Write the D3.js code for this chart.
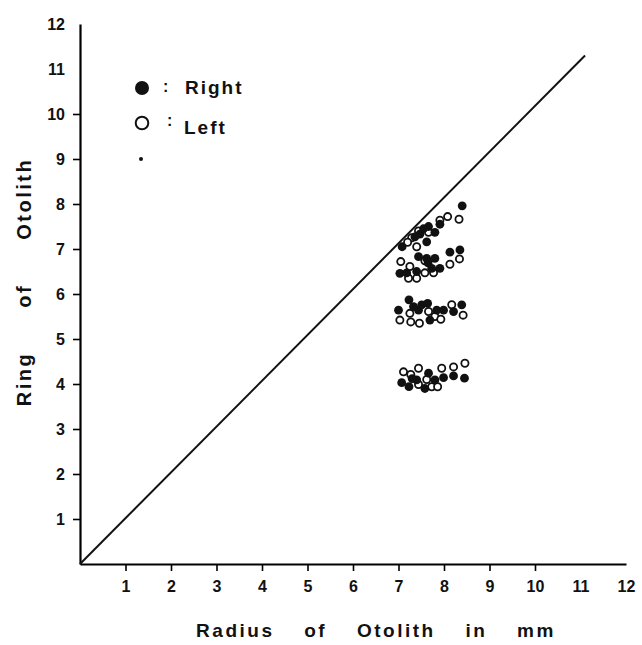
<!DOCTYPE html>
<html>
<head>
  <style>
    body { margin: 0; background: #fff; }
    text { font-family: "Liberation Sans", Arial, sans-serif; font-weight: bold; fill: #111; }
  </style>
  <title>Ring of Otolith vs Radius of Otolith</title>
  <script src="https://cdn.jsdelivr.net/npm/d3@7/dist/d3.min.js"></script>
</head>
<body>
<script>
  // Tick labels
  const xTicks = [1, 2, 3, 4, 5, 6, 7, 8, 9, 10, 11, 12];
  const yTicks = [1, 2, 3, 4, 5, 6, 7, 8, 9, 10, 11, 12];

  // Reference line (ring = radius)
  const diagonal = [[0, 0], [11.1, 11.3]];

  // Right otoliths (filled) : [radius mm, ring]
  const rightPts = [
    [8.40, 7.96], [7.91, 7.55], [7.80, 7.37], [7.66, 7.50], [7.47, 7.33], [7.36, 7.27],
    [7.62, 7.16], [7.08, 7.05], [7.55, 7.45],
    [8.13, 6.93], [8.35, 6.98], [7.44, 6.83], [7.62, 6.79], [7.80, 6.79], [7.03, 6.46],
    [7.18, 6.47], [7.40, 6.50], [7.65, 6.69], [7.73, 6.57], [7.91, 6.57],
    [7.23, 5.87], [7.00, 5.64], [7.33, 5.72], [7.44, 5.64], [7.51, 5.76], [7.64, 5.79],
    [7.69, 5.42], [7.84, 5.64], [7.99, 5.64], [8.21, 5.61], [8.39, 5.76],
    [7.07, 4.03], [7.23, 3.94], [7.40, 4.09], [7.30, 4.12], [7.66, 4.24], [7.58, 3.90],
    [7.80, 4.09], [7.99, 4.14], [8.21, 4.18], [8.45, 4.13]
  ];

  // Left otoliths (open)
  const leftPts = [
    [8.33, 7.66], [8.08, 7.72], [7.91, 7.64], [7.66, 7.37], [7.44, 7.40], [7.29, 7.25],
    [7.40, 7.05], [7.20, 7.15],
    [8.34, 6.78], [8.13, 6.66], [7.58, 6.74], [7.05, 6.72], [7.25, 6.61], [7.22, 6.35],
    [7.40, 6.35], [7.58, 6.47], [7.77, 6.47],
    [7.03, 5.42], [7.25, 5.57], [7.27, 5.38], [7.46, 5.35], [7.66, 5.61], [7.80, 5.50],
    [8.17, 5.76], [8.42, 5.53], [7.93, 5.44],
    [7.11, 4.27], [7.27, 4.21], [7.44, 4.35], [7.44, 3.99], [7.62, 4.10], [7.73, 3.94],
    [7.86, 3.94], [7.95, 4.35], [8.21, 4.38], [8.46, 4.46]
  ];

  const width = 642, height = 645;

  const svg = d3.select("body").append("svg")
      .attr("width", width)
      .attr("height", height);

  // Scales
  const x = d3.scaleLinear().domain([0, 12]).range([80, 626]);
  const y = d3.scaleLinear().domain([0, 12]).range([564, 24]);

  // X axis
  const xAxis = svg.append("g")
      .attr("transform", "translate(0," + y(0) + ")")
      .call(d3.axisBottom(x).tickValues(xTicks).tickSize(7).tickSizeOuter(0).tickPadding(10));
  xAxis.select(".domain").attr("stroke-width", 2.2);
  xAxis.selectAll(".tick line").attr("stroke-width", 1.6);
  xAxis.selectAll(".tick").filter(d => d > 10).select("line").remove();
  xAxis.selectAll(".tick text").style("font-size", "16px").style("font-family", "'Liberation Sans', Arial, sans-serif").style("font-weight", "bold");

  // Y axis
  const yAxis = svg.append("g")
      .attr("transform", "translate(" + x(0) + ",0)")
      .call(d3.axisLeft(y).tickValues(yTicks).tickSize(7).tickSizeOuter(0).tickPadding(8));
  yAxis.select(".domain").attr("stroke-width", 2.2);
  yAxis.selectAll(".tick line").attr("stroke-width", 1.6);
  yAxis.selectAll(".tick").filter(d => d > 10).select("line").remove();
  yAxis.selectAll(".tick text").style("font-size", "16px").style("font-family", "'Liberation Sans', Arial, sans-serif").style("font-weight", "bold");

  // Diagonal line
  svg.append("path")
      .datum(diagonal)
      .attr("fill", "none")
      .attr("stroke", "#111")
      .attr("stroke-width", 2)
      .attr("d", d3.line().x(d => x(d[0])).y(d => y(d[1])));

  // Points
  svg.append("g").selectAll("circle.left")
      .data(leftPts)
      .enter().append("circle")
        .attr("class", "left")
        .attr("cx", d => x(d[0]))
        .attr("cy", d => y(d[1]))
        .attr("r", 3.6)
        .attr("fill", "#fff")
        .attr("stroke", "#111")
        .attr("stroke-width", 1.8);

  svg.append("g").selectAll("circle.right")
      .data(rightPts)
      .enter().append("circle")
        .attr("class", "right")
        .attr("cx", d => x(d[0]))
        .attr("cy", d => y(d[1]))
        .attr("r", 4.4)
        .attr("fill", "#111");

  // Legend
  const legend = svg.append("g");
  legend.append("circle").attr("cx", 142).attr("cy", 88).attr("r", 7).attr("fill", "#111");
  legend.append("circle").attr("cx", 142).attr("cy", 123).attr("r", 6.3)
      .attr("fill", "none").attr("stroke", "#111").attr("stroke-width", 2);
  legend.append("circle").attr("cx", 141).attr("cy", 159).attr("r", 2).attr("fill", "#111");
  legend.append("text").attr("x", 163).attr("y", 92).style("font-size", "16px").text(":");
  legend.append("text").attr("x", 185).attr("y", 94)
      .style("font-size", "19px").style("letter-spacing", "2px").text("Right");
  legend.append("text").attr("x", 167).attr("y", 126).style("font-size", "16px").text(":");
  legend.append("text").attr("x", 184).attr("y", 134)
      .style("font-size", "19px").style("letter-spacing", "2px").text("Left");

  // Axis titles
  svg.append("text")
      .attr("x", 376)
      .attr("y", 637)
      .style("text-anchor", "middle")
      .style("font-size", "19px")
      .style("letter-spacing", "2.5px")
      .style("word-spacing", "22px")
      .text("Radius of Otolith in mm");

  svg.append("text")
      .attr("transform", "translate(31,282) rotate(-90)")
      .style("text-anchor", "middle")
      .style("font-size", "20px")
      .style("letter-spacing", "2.5px")
      .style("word-spacing", "36px")
      .text("Ring of Otolith");
</script>
</body>
</html>
